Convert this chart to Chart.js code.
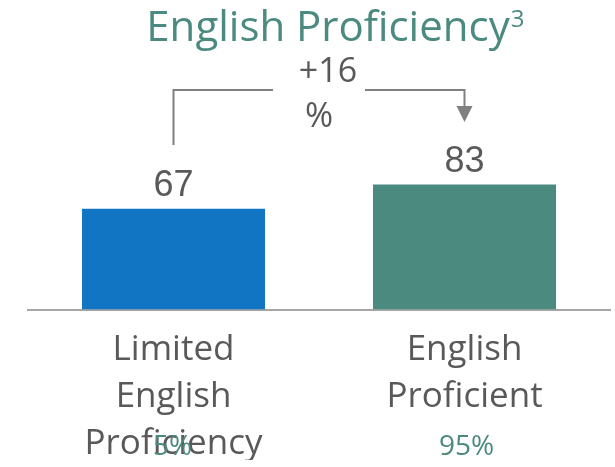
<!DOCTYPE html>
<html>
<head>
<meta charset="utf-8">
<script src="https://cdn.jsdelivr.net/npm/chart.js@4"></script>
<style>
    html, body { margin: 0; padding: 0; background: #fff; }
    #wrap { width: 615px; height: 467px; }
</style>
</head>
<body>
<div id="wrap"><canvas id="chart"></canvas></div>
<script>
const categories = [["Limited", "English", "Proficiency"], ["English", "Proficient"]];
const values = [67, 83];
const shares = ["5%", "95%"];
const barColors = ["#1175c4", "#4a8a7f"];
const titleText = "English Proficiency";
const deltaText = ["+16", "%"];

const TEAL = "#4a8a7f";
const GREY = "#595959";
const LINE = "#808080";

// title, value labels, bracket arrow and share labels
const annotations = {
    id: "annotations",
    afterDraw(chart) {
        const { ctx } = chart;
        const x = chart.scales.x;
        const y = chart.scales.y;
        ctx.save();

        // title with superscript
        ctx.fillStyle = TEAL;
        ctx.textBaseline = "alphabetic";
        ctx.font = "42px 'Open Sans'";
        ctx.textAlign = "left";
        const tw = ctx.measureText(titleText).width;
        const tx = 328 - tw / 2;
        ctx.fillText(titleText, tx, 41);
        ctx.font = "24px 'Open Sans'";
        ctx.fillText("3", tx + tw + 1, 27);

        // value labels
        ctx.fillStyle = GREY;
        ctx.font = "36px 'Liberation Sans'";
        ctx.textAlign = "center";
        values.forEach((v, i) => {
            ctx.fillText(String(v), x.getPixelForValue(i), y.getPixelForValue(v) - 13);
        });

        // bracket
        const x0 = x.getPixelForValue(0);
        const x1 = x.getPixelForValue(1);
        const mid = (x0 + x1) / 2;
        ctx.strokeStyle = LINE;
        ctx.lineWidth = 2;
        ctx.beginPath();
        ctx.moveTo(x0, 145);
        ctx.lineTo(x0, 90);
        ctx.lineTo(mid - 46, 90);
        ctx.moveTo(mid + 46, 90);
        ctx.lineTo(x1, 90);
        ctx.lineTo(x1, 108);
        ctx.stroke();
        ctx.fillStyle = LINE;
        ctx.beginPath();
        ctx.moveTo(x1 - 8, 106);
        ctx.lineTo(x1 + 8, 106);
        ctx.lineTo(x1, 122);
        ctx.closePath();
        ctx.fill();

        ctx.fillStyle = GREY;
        ctx.font = "34px 'Open Sans'";
        ctx.fillText(deltaText[0], mid + 9, 82);
        ctx.fillText(deltaText[1], mid, 127);

        // share labels
        ctx.fillStyle = TEAL;
        ctx.font = "28px 'Open Sans'";
        ctx.fillText(shares[0], x0 - 1, 455);
        ctx.fillText(shares[1], x1 + 2, 455);

        ctx.restore();
    }
};

new Chart(document.getElementById("chart"), {
    type: "bar",
    data: {
        labels: categories,
        datasets: [{
            data: values,
            backgroundColor: barColors,
            barPercentage: 1,
            categoryPercentage: 0.629,
        }],
    },
    options: {
        responsive: true,
        maintainAspectRatio: false,
        animation: false,
        events: [],
        layout: {
            padding: { top: 159, left: 28, right: 5, bottom: 7 },
        },
        plugins: {
            legend: { display: false },
            tooltip: { enabled: false },
        },
        scales: {
            x: {
                grid: { display: false },
                border: { display: true, color: "#a6a6a6", width: 2 },
                ticks: {
                    color: GREY,
                    padding: 9,
                    maxRotation: 0,
                    autoSkip: false,
                    font: { family: "'Open Sans'", size: 35, lineHeight: 1.343 },
                },
            },
            y: {
                display: false,
                min: 0,
                max: 100,
            },
        },
    },
    plugins: [annotations],
});
</script>
</body>
</html>
